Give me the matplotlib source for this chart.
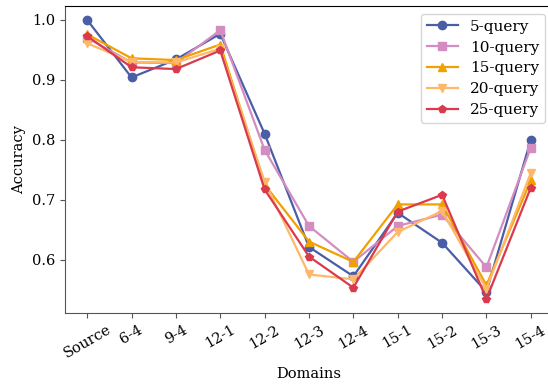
import matplotlib
matplotlib.use("Agg")
import matplotlib.pyplot as plt

plt.rcParams['font.family'] = 'DejaVu Serif'

domains = ['Source', '6-4', '9-4', '12-1', '12-2', '12-3', '12-4',
           '15-1', '15-2', '15-3', '15-4']

q5 = [1.000, 0.904, 0.934, 0.977, 0.810, 0.621, 0.572, 0.678, 0.628, 0.546, 0.800]
q10 = [0.970, 0.929, 0.928, 0.983, 0.783, 0.656, 0.596, 0.656, 0.675, 0.587, 0.787]
q15 = [0.976, 0.936, 0.933, 0.959, 0.725, 0.630, 0.596, 0.692, 0.692, 0.557, 0.732]
q20 = [0.961, 0.930, 0.929, 0.952, 0.730, 0.575, 0.567, 0.646, 0.681, 0.551, 0.745]
q25 = [0.973, 0.921, 0.918, 0.949, 0.717, 0.605, 0.553, 0.680, 0.708, 0.534, 0.720]

series = [
    ('5-query', q5, '#4a5ea8', 'o'),
    ('10-query', q10, '#d38dc1', 's'),
    ('15-query', q15, '#f0a000', '^'),
    ('20-query', q20, '#ffb869', 'v'),
    ('25-query', q25, '#d93a4c', 'p'),
]

fig = plt.figure(figsize=(5.48, 3.87), dpi=100)
ax = fig.add_axes([0.1186, 0.1912, 0.8905, 0.7933])

x = range(len(domains))
for label, vals, color, marker in series:
    ax.plot(x, vals, color=color, marker=marker, markersize=6,
            linewidth=1.6, label=label)

ax.set_xticks(list(x))
ax.set_xticklabels(domains, rotation=30, fontsize=10.5)
ax.tick_params(axis='y', labelsize=10.5)
ax.set_xlabel('Domains', fontsize=10.5)
ax.set_ylabel('Accuracy', fontsize=10.5)
ax.set_yticks([0.6, 0.7, 0.8, 0.9, 1.0])

for side in ['left', 'bottom']:
    ax.spines[side].set_color('#555555')
ax.tick_params(colors='#555555', labelcolor='black')

ax.legend(loc='upper right', fontsize=11, labelspacing=0.45)

fig.savefig('out.png', dpi=100)
